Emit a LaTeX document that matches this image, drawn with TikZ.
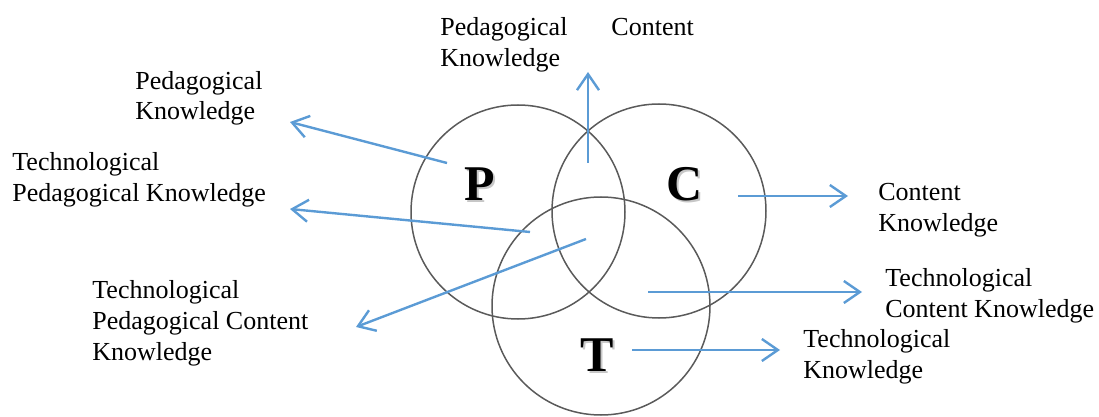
\documentclass[tikz,border=0pt]{standalone}
\usepackage{fontspec}
\setmainfont{Liberation Serif}
\usetikzlibrary{arrows.meta}
\definecolor{arrowblue}{RGB}{91,155,213}
\definecolor{ringgray}{RGB}{90,90,90}

\begin{document}
\begin{tikzpicture}[x=0.5pt, y=-0.5pt,
    ring/.style={circle, draw=ringgray, line width=0.75pt, minimum size=#1, inner sep=0pt},
    letter/.style={inner sep=0pt, font=\fontsize{25}{30}\selectfont\bfseries},
    ghost/.style={letter, text=black!22},
    knowledge/.style={anchor=base west, align=left, inner sep=0pt, font=\fontsize{13}{15.5}\selectfont},
    pointer/.style={draw=arrowblue, line width=1.2pt, -{Straight Barb[length=8pt, width=11pt, line width=1.2pt]}}]

    \useasboundingbox (0,0) rectangle (1099,417);

    % The three rings
    \node[ring=107pt] (P) at (518,212) {};
    \node[ring=107pt] (C) at (659,211) {};
    \node[ring=109pt] (T) at (601,306) {};

    % Letters, with a soft shadow
    \node[ghost] at (482,186) {P};
    \node[letter] (Pl) at (480,184) {P};
    \node[ghost] at (687,186) {C};
    \node[letter] (Cl) at (685,184) {C};
    \node[ghost] at (599,357) {T};
    \node[letter] (Tl) at (597,355) {T};

    % Texts (placed by the baseline of their last line)
    \node[knowledge] (pk) at (135,120) {Pedagogical\\Knowledge};
    \node[knowledge] (tpk) at (12,202) {Technological\\Pedagogical Knowledge};
    \node[knowledge] (tpck) at (92,360) {Technological\\Pedagogical Content\\Knowledge};
    \node[knowledge] (pck) at (440,67) {Pedagogical\hspace{22pt}Content\\Knowledge};
    \node[knowledge] (ck) at (878,232) {Content\\Knowledge};
    \node[knowledge] (tck) at (885,317) {Technological\\Content Knowledge};
    \node[knowledge] (tk) at (803,378) {Technological\\Knowledge};

    % Arrow ends
    \coordinate (pk-from) at (447,163);
    \coordinate (pk-to) at (290,122);
    \coordinate (tpk-from) at (530,232);
    \coordinate (tpk-to) at (290,209);
    \coordinate (tpck-from) at (586,239);
    \coordinate (tpck-to) at (356,327);
    \coordinate (pck-from) at (588,163);
    \coordinate (pck-to) at (588,72);
    \coordinate (ck-from) at (738,196);
    \coordinate (ck-to) at (848,196);
    \coordinate (tck-from) at (648,292);
    \coordinate (tck-to) at (862,292);
    \coordinate (tk-from) at (632,350);
    \coordinate (tk-to) at (780,350);

    % Arrows
    \draw[pointer] (pk-from) -- (pk-to);
    \draw[pointer] (tpk-from) -- (tpk-to);
    \draw[pointer] (tpck-from) -- (tpck-to);
    \draw[pointer] (pck-from) -- (pck-to);
    \draw[pointer] (ck-from) -- (ck-to);
    \draw[pointer] (tck-from) -- (tck-to);
    \draw[pointer] (tk-from) -- (tk-to);
\end{tikzpicture}
\end{document}
